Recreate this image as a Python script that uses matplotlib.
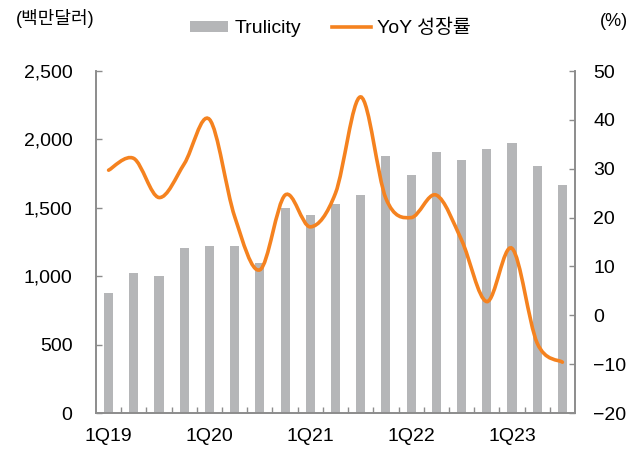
import matplotlib
matplotlib.use('Agg')
import matplotlib.pyplot as plt
from matplotlib.path import Path
from matplotlib.patches import PathPatch
import numpy as np

plt.rcParams['font.family'] = ['Liberation Sans', 'Noto Sans CJK KR']

## data
quarters = ['1Q19', '2Q19', '3Q19', '4Q19', '1Q20', '2Q20', '3Q20', '4Q20',
            '1Q21', '2Q21', '3Q21', '4Q21', '1Q22', '2Q22', '3Q22', '4Q22',
            '1Q23', '2Q23', '3Q23']
sales = [875, 1021, 1004, 1205, 1223, 1220, 1099, 1499, 1447, 1530,
         1595, 1879, 1737, 1908, 1847, 1930, 1974, 1806, 1667]
yoy = [29.7, 32.1, 24.1, 31.0, 40.1, 20.2, 9.3, 24.6, 18.1, 25.0,
       44.7, 23.9, 20.0, 24.6, 15.4, 2.8, 13.7, -5.7, -9.6]

bar_color = '#b5b6b8'
line_color = '#f5821f'
axis_color = '#8c8c8c'

fig = plt.figure(figsize=(6.42, 4.5), dpi=100)
ax1 = fig.add_axes([96/642, 1-413/450, 479/642, 342/450])
ax2 = ax1.twinx()

x = np.arange(len(quarters))
ax1.bar(x, sales, width=0.36, color=bar_color, zorder=2)

# smoothed line like excel: cubic bezier through the points
pts = np.column_stack([x, yoy]).astype(float)
verts = [tuple(pts[0])]
codes = [Path.MOVETO]
n = len(pts)
for i in range(n - 1):
    p0 = pts[i - 1] if i > 0 else pts[i]
    p1 = pts[i]
    p2 = pts[i + 1]
    p3 = pts[i + 2] if i + 2 < n else pts[i + 1]
    c1 = p1 + (p2 - p0) / 6
    c2 = p2 - (p3 - p1) / 6
    verts += [tuple(c1), tuple(c2), tuple(p2)]
    codes += [Path.CURVE4] * 3
ax2.add_patch(PathPatch(Path(verts, codes), facecolor='none', edgecolor=line_color,
                        linewidth=2.6, capstyle='round', zorder=3))

ax1.set_xlim(-0.5, len(quarters) - 0.5)
ax1.set_ylim(0, 2500)
ax2.set_ylim(-20, 50)
ax1.set_yticks(np.arange(0, 2501, 500))
ax1.set_yticklabels(['{:,}'.format(v) for v in range(0, 2501, 500)])
ax2.set_yticks(np.arange(-20, 51, 10))
ax2.set_yticklabels([str(v).replace('-', '\u2212') for v in range(-20, 51, 10)])

ax1.set_xticks(x[::4])
ax1.set_xticklabels(quarters[::4])
ax1.set_xticks(np.arange(0.5, len(quarters) - 1, 1), minor=True)
ax1.tick_params(axis='x', which='major', length=0, pad=11, labelsize=14)
ax1.tick_params(axis='x', which='minor', direction='in', length=4, width=1, color=axis_color)
ax1.tick_params(axis='y', direction='in', length=4, width=1, color=axis_color, pad=17, labelsize=14)
ax2.tick_params(axis='y', direction='in', length=4, width=1, color=axis_color, pad=13, labelsize=14)

for a in (ax1, ax2):
    a.spines['top'].set_visible(False)
    for s in ('left', 'right', 'bottom'):
        a.spines[s].set_color(axis_color)
        a.spines[s].set_linewidth(1.2)
ax2.set_zorder(ax1.get_zorder() + 1)
ax2.patch.set_visible(False)

fig.text(16/642, 1-19/450, '(백만달러)', fontsize=13, va='center', ha='left')
fig.text(628/642, 1-22/450, '(%)', fontsize=13, va='center', ha='right')

# legend
from matplotlib.patches import Patch
from matplotlib.lines import Line2D
handles = [Patch(facecolor=bar_color, edgecolor='none'),
           Line2D([], [], color=line_color, linewidth=2.6)]
fig.legend(handles, ['Trulicity', 'YoY 성장률'], loc='center', bbox_to_anchor=(330/642, 1-28/450),
           ncol=2, frameon=False, fontsize=14, handlelength=2.0, handleheight=0.5,
           handletextpad=0.3, columnspacing=1.6)

plt.savefig('out.png', dpi=100)
